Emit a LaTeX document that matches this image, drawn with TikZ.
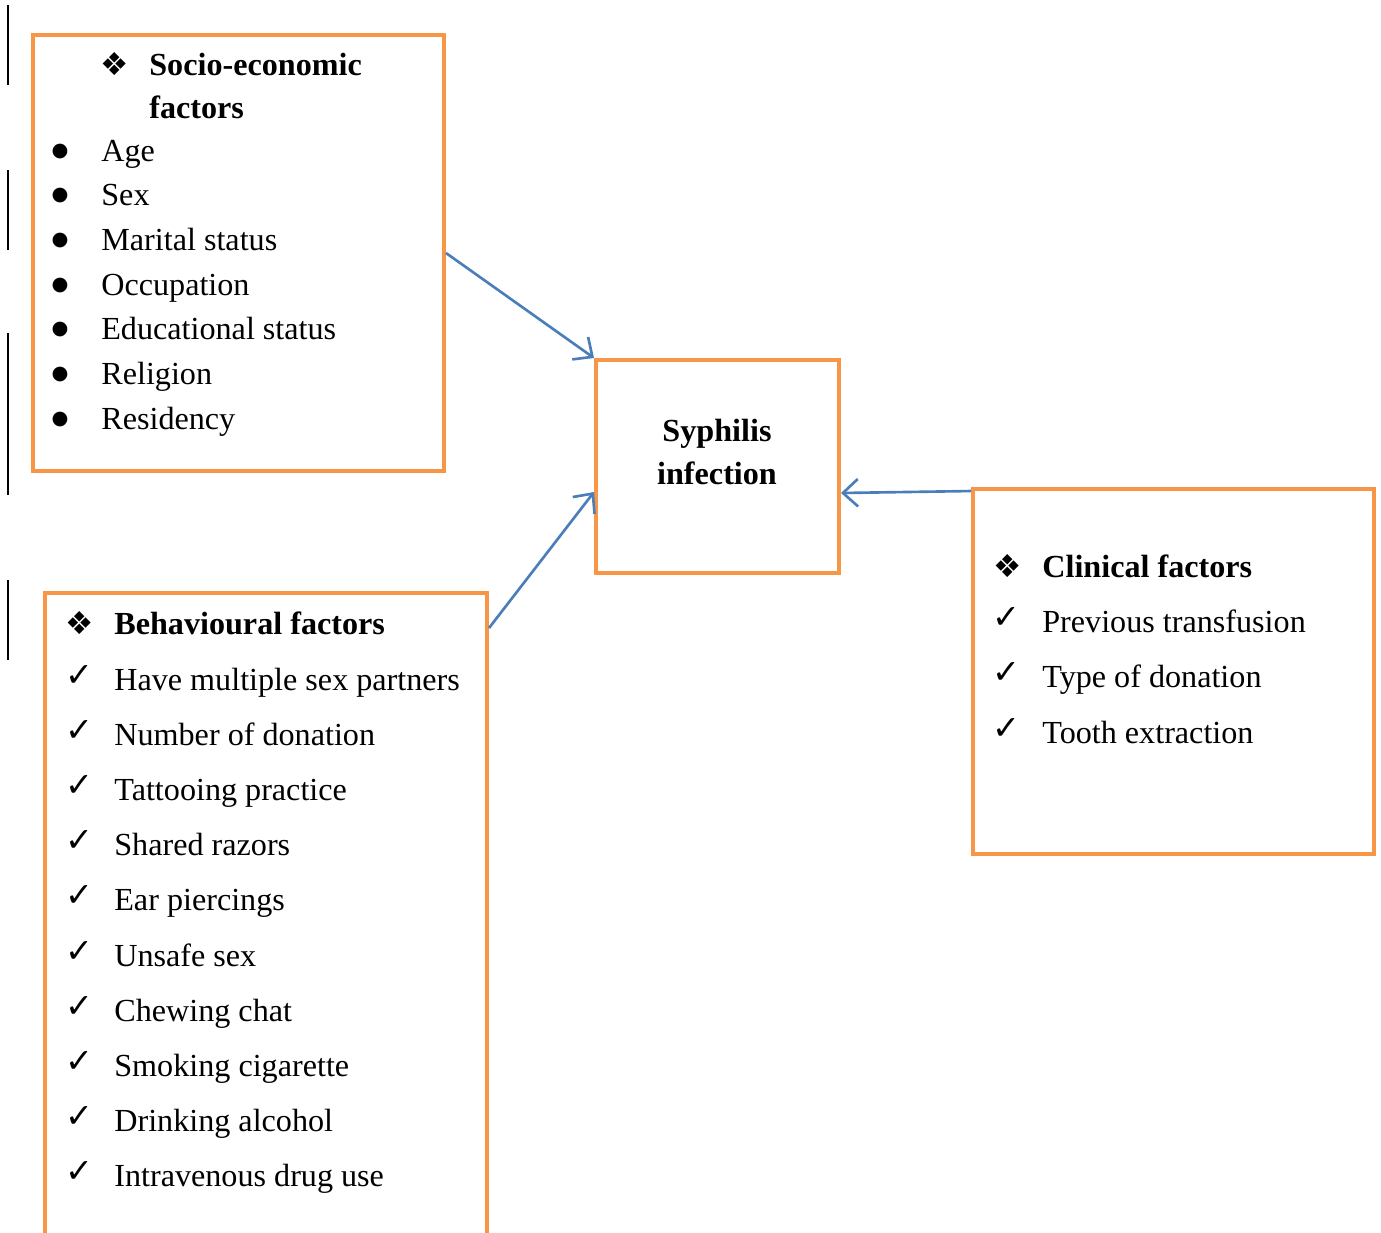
\documentclass[tikz,border=0pt]{standalone}
\usepackage{fontspec}
\setmainfont{Liberation Serif}
\newfontfamily\symfont{DejaVu Sans}
\usetikzlibrary{positioning, arrows.meta}
\definecolor{boxorange}{HTML}{F79646}
\definecolor{arrowblue}{HTML}{4A7EBB}

\begin{document}
\begin{tikzpicture}[x=0.02cm, y=-0.02cm,
  factor/.style={rectangle, draw=boxorange, line width=2.3pt, inner sep=0pt},
  head/.style={anchor=base west, inner sep=0pt, font=\fontsize{18.3}{24}\selectfont\bfseries},
  item/.style={anchor=base west, inner sep=0pt, font=\fontsize{18.3}{24}\selectfont},
  dia/.style={anchor=base, inner sep=0pt, font=\symfont\fontsize{18}{20}\selectfont},
  chk/.style={anchor=base, inner sep=0pt, font=\symfont\fontsize{19}{20}\selectfont},
  bul/.style={anchor=center, inner sep=0pt, font=\symfont\fontsize{11}{12}\selectfont},
  link/.style={-{Straight Barb[length=3mm, width=5.5mm]}, line width=1.5pt, arrowblue}
]
\useasboundingbox (0,0) rectangle (1381,1232);

% ===== Change bars =====
\foreach \a/\b in {5/85, 170/250, 333/495, 580/660}
  \draw[line width=1.1pt] (8,\a) -- (8,\b);

% ===== Boxes =====
\node[factor, minimum width=8.22cm, minimum height=8.72cm] (socio) at (238.5,253) {};
\node[factor, minimum width=4.86cm, minimum height=4.26cm] (syph) at (717.5,466.5) {};
\node[factor, minimum width=8.02cm, minimum height=7.30cm] (clin) at (1173.5,671.5) {};
\node[factor, minimum width=8.84cm, minimum height=13.74cm] (behav) at (266,936.5) {};

% ===== Outcome =====
\node[align=center, inner sep=0pt, font=\fontsize{18.3}{24}\selectfont\bfseries] (syphtext) at (717,452) {Syphilis\\infection};

% ===== Socio-economic factors =====
\node[dia] (sociodia) at (115,75) {❖};
\node[head] (sociohead) at (149,75) {Socio-economic};
\node[head] (sociohead2) at (149,118) {factors};
\foreach \t [count=\i] in {Age, Sex, Marital status, Occupation, Educational status, Religion, Residency}{
  \node[bul] (sb\i) at (60,{151+44.67*(\i-1)}) {●};
  \node[item] (si\i) at (101,{161+44.67*(\i-1)}) {\t};
}

% ===== Behavioural factors =====
\node[dia] (behavdia) at (80,634) {❖};
\node[head] (behavhead) at (114,634) {Behavioural factors};
\foreach \t [count=\i] in {Have multiple sex partners, Number of donation, Tattooing practice, Shared razors, Ear piercings, Unsafe sex, Chewing chat, Smoking cigarette, Drinking alcohol, Intravenous drug use}{
  \node[chk] (bc\i) at (79,{686+55.2*(\i-1)}) {✓};
  \node[item] (bi\i) at (114,{690+55.2*(\i-1)}) {\t};
}

% ===== Clinical factors =====
\node[dia] (clindia) at (1008,577) {❖};
\node[head] (clinhead) at (1042,577) {Clinical factors};
\foreach \t [count=\i] in {Previous transfusion, Type of donation, Tooth extraction}{
  \node[chk] (cc\i) at (1006,{628+55.5*(\i-1)}) {✓};
  \node[item] (ci\i) at (1042,{632+55.5*(\i-1)}) {\t};
}

% ===== Links =====
\draw[link] (socio.east) -- (syph.north west);
\draw[link] ([yshift=-0.74cm]behav.north east) -- ([yshift=-0.51cm]syph.west);
\draw[link] ([yshift=-0.08cm]clin.north west) -- ([yshift=-0.53cm]syph.east);

\end{tikzpicture}
\end{document}
